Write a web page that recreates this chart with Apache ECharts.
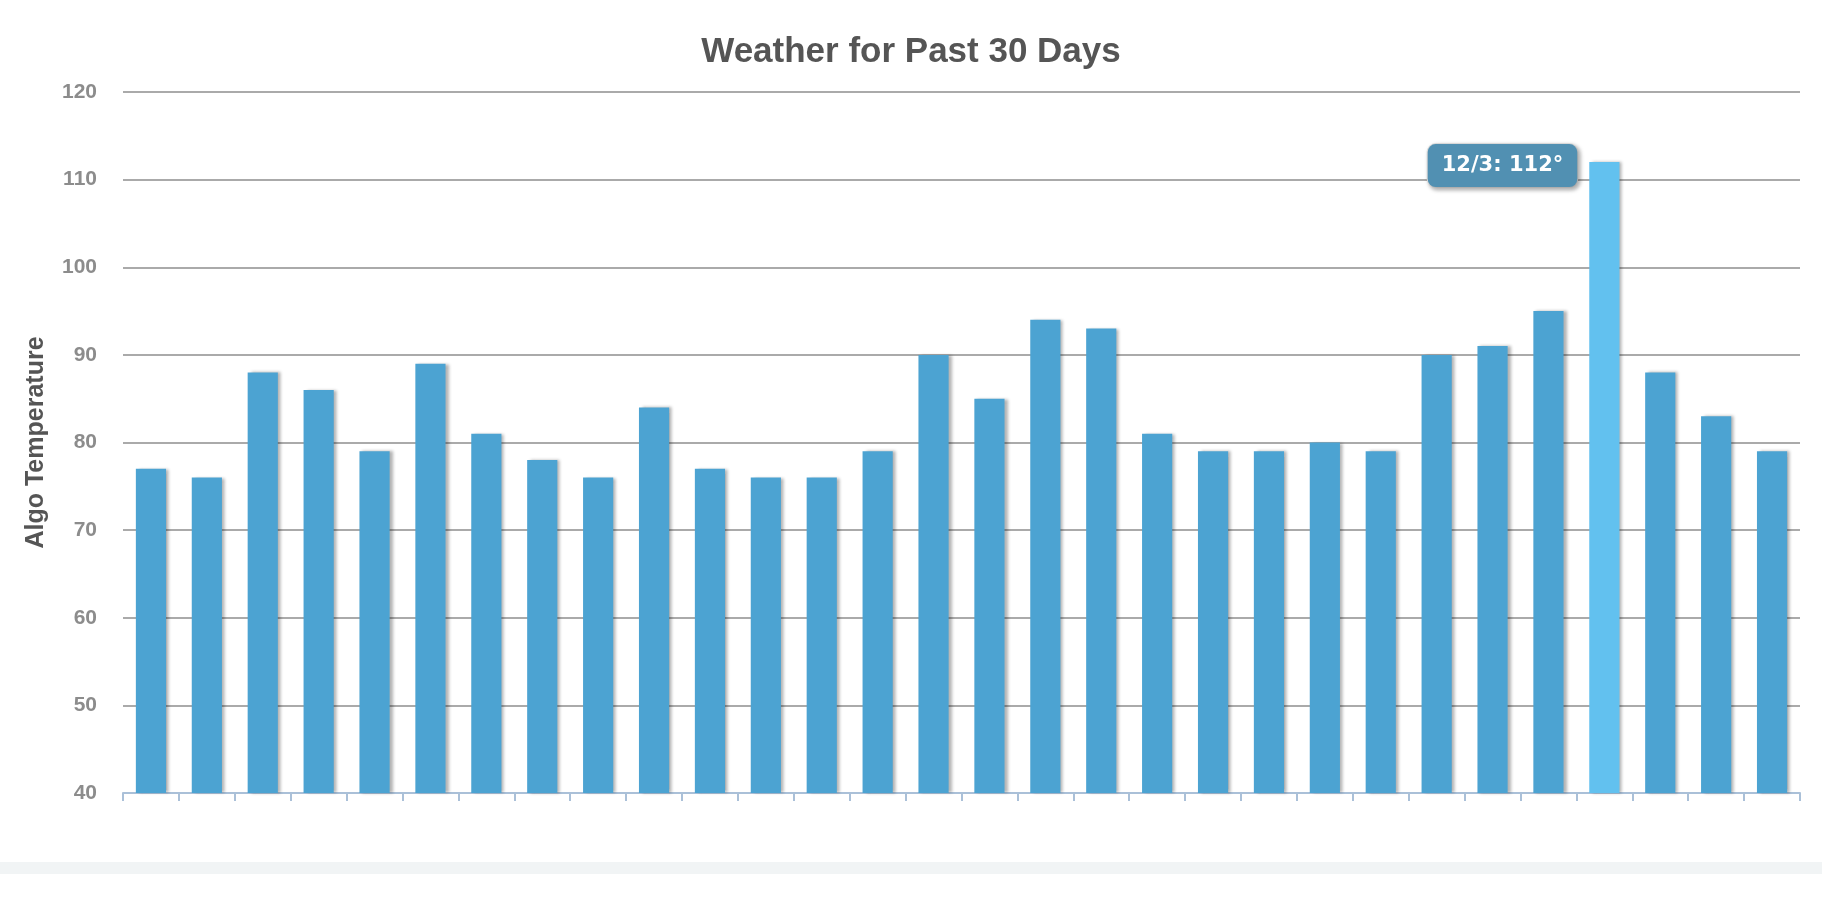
<!DOCTYPE html><html><head><meta charset="utf-8"><script src="https://cdn.jsdelivr.net/npm/echarts@6/dist/echarts.min.js"></script>
<style>html,body{margin:0;padding:0;background:#fff}#c{width:1822px;height:898px}#band{position:absolute;left:0;top:862px;width:1822px;height:12px;background:#f1f4f5}</style></head><body><div id="c"></div><div id="band"></div><script>
const categories=['11/7','11/8','11/9','11/10','11/11','11/12','11/13','11/14','11/15','11/16','11/17','11/18','11/19','11/20','11/21','11/22','11/23','11/24','11/25','11/26','11/27','11/28','11/29','11/30','12/1','12/2','12/3','12/4','12/5','12/6'];
const temps=[77,76,88,86,79,89,81,78,76,84,77,76,76,79,90,85,94,93,81,79,79,80,79,90,91,95,112,88,83,79];
const highlightIndex=26;
const yTicks=[40,50,60,70,80,90,100,110,120];
const chart=echarts.init(document.getElementById('c'));
chart.setOption({
 animation:false,
 title:{text:'Weather for Past 30 Days',left:'center',top:30,textStyle:{fontFamily:'Liberation Sans',fontSize:35,fontWeight:'bold',color:'#555'}},
 grid:{left:123,right:22,top:92,bottom:105},
 xAxis:{type:'category',data:categories,axisLabel:{show:false},axisLine:{lineStyle:{color:'#aac0d8',width:2}},axisTick:{show:true,interval:0,lineStyle:{color:'#aac0d8',width:2},length:8}},
 yAxis:{type:'value',min:yTicks[0],max:yTicks[yTicks.length-1],interval:10,name:'Algo Temperature',nameLocation:'middle',nameGap:74,nameTextStyle:{fontFamily:'Liberation Sans',fontSize:25,fontWeight:'bold',color:'#555'},
  axisLabel:{fontFamily:'Liberation Sans',fontSize:21,fontWeight:'bold',color:'#8c8c8c',margin:26},axisLine:{show:false},axisTick:{show:false},splitLine:{lineStyle:{color:'#aaa',width:2}}},
 series:[{type:'bar',barWidth:'54%',
  data:temps.map((v,i)=>i===highlightIndex?{value:v,itemStyle:{color:'#62c1ef'},label:{show:true,position:[-12,-18],align:'right',verticalAlign:'top',formatter:categories[i]+': '+v+'°',backgroundColor:'#5190b2',borderRadius:8,padding:[11,14],color:'#fff',fontFamily:'DejaVu Sans',fontWeight:'bold',fontSize:21,shadowColor:'rgba(0,0,0,0.3)',shadowBlur:4,shadowOffsetX:2,shadowOffsetY:2,borderColor:'#e0e0e0',borderWidth:1}}:v),
  itemStyle:{color:'#4ca3d2',shadowColor:'rgba(0,0,0,0.3)',shadowOffsetX:3,shadowOffsetY:0,shadowBlur:3}}]
});
</script></body></html>
